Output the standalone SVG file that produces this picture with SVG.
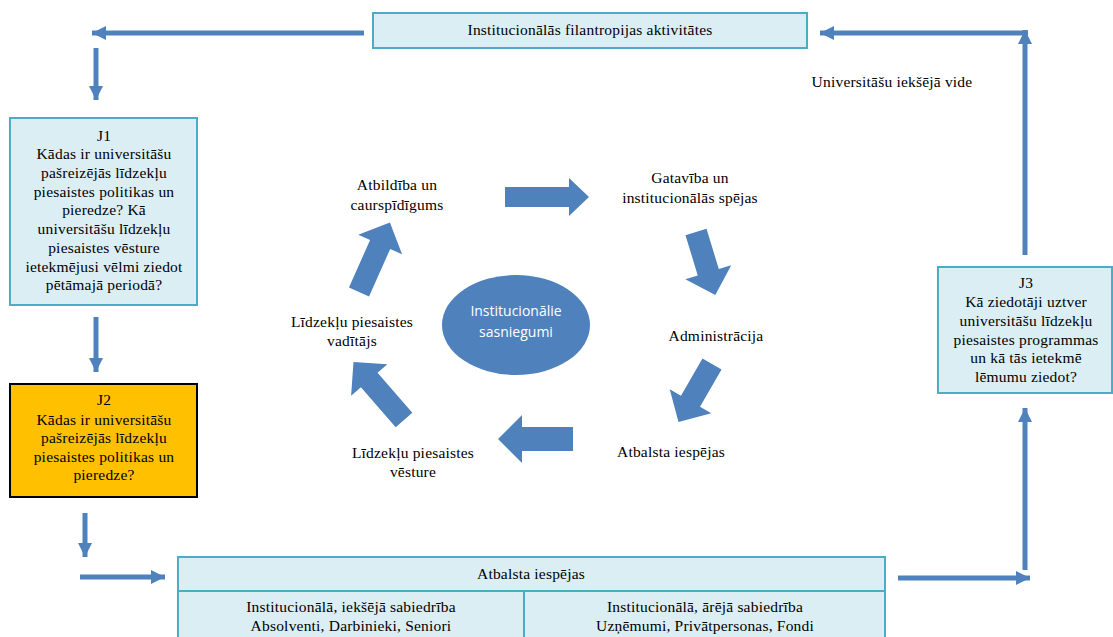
<svg xmlns="http://www.w3.org/2000/svg" width="1113" height="637" viewBox="0 0 1113 637">
<style>
.t{font-family:"Liberation Serif","Times New Roman",serif;font-size:15.5px;letter-spacing:0.2px;fill:#000;text-anchor:middle}
.w{font-family:"Open Sans","Noto Sans",sans-serif;font-size:14px;fill:#fff;text-anchor:middle}
.box{fill:#DBEEF4;stroke:#4BACC6;stroke-width:2}
.j2{fill:#FFC000;stroke:#000;stroke-width:2}
.ln{stroke:#4F81BD;stroke-width:5;fill:none;marker-end:url(#ah)}
.blk{fill:#4F81BD}
</style>
<defs>
<marker id="ah" markerUnits="userSpaceOnUse" markerWidth="16" markerHeight="16" refX="14" refY="7" orient="auto">
<polygon points="0,0 14,7 0,14" fill="#4F81BD"/>
</marker>
</defs>
<rect width="1113" height="637" fill="#fff"/>
<g id="connectors">
<line class="ln" x1="364" y1="33" x2="92" y2="33"/>
<line class="ln" x1="96" y1="48" x2="96" y2="100"/>
<line class="ln" x1="96" y1="317" x2="96" y2="372"/>
<line class="ln" x1="85" y1="513" x2="85" y2="557"/>
<line class="ln" x1="80" y1="577" x2="165" y2="577"/>
<line class="ln" x1="898" y1="578" x2="1030" y2="578"/>
<line class="ln" x1="1025" y1="570" x2="1025" y2="408"/>
<line class="ln" x1="1025" y1="255" x2="1025" y2="30"/>
<line class="ln" x1="1028" y1="33" x2="820" y2="33"/>
</g>
<g id="cycle-arrows">
<path class="blk" transform="translate(505,197)" d="M0,-10 H64 V-19 L84,0 L64,19 V10 H0 Z"/>
<path class="blk" transform="translate(696,232) rotate(73)" d="M0,-11 H42 V-24 L66,0 L42,24 V11 H0 Z"/>
<path class="blk" transform="translate(712,364) rotate(120)" d="M0,-11 H43 V-24 L67,0 L43,24 V11 H0 Z"/>
<path class="blk" transform="translate(573,439) rotate(180)" d="M0,-12 H51 V-24 L75,0 L51,24 V12 H0 Z"/>
<path class="blk" transform="translate(404,420) rotate(-131)" d="M0,-11 H53 V-24 L77,0 L53,24 V11 H0 Z"/>
<path class="blk" transform="translate(359,292) rotate(-66)" d="M0,-11 H52 V-24 L76,0 L52,24 V11 H0 Z"/>
</g>
<g id="top">
<rect class="box" x="373" y="13" width="434" height="35"/>
<text class="t" x="590" y="35">Institucionālās filantropijas aktivitātes</text>
</g>
<g id="vide">
<text class="t" x="892" y="87">Universitāšu iekšējā vide</text>
</g>
<g id="j1">
<rect class="box" x="10" y="118" width="187" height="187"/>
<text class="t" x="104" y="141">J1</text>
<text class="t" x="104" y="159">Kādas ir universitāšu</text>
<text class="t" x="104" y="178">pašreizējās līdzekļu</text>
<text class="t" x="104" y="197">piesaistes politikas un</text>
<text class="t" x="104" y="215">pieredze? Kā</text>
<text class="t" x="104" y="234">universitāšu līdzekļu</text>
<text class="t" x="104" y="253">piesaistes vēsture</text>
<text class="t" x="104" y="272">ietekmējusi vēlmi ziedot</text>
<text class="t" x="104" y="290">pētāmajā periodā?</text>
</g>
<g id="j2">
<rect class="j2" x="10" y="384" width="187" height="113"/>
<text class="t" x="104" y="405">J2</text>
<text class="t" x="104" y="425">Kādas ir universitāšu</text>
<text class="t" x="104" y="443">pašreizējās līdzekļu</text>
<text class="t" x="104" y="462">piesaistes politikas un</text>
<text class="t" x="104" y="480">pieredze?</text>
</g>
<g id="j3">
<rect class="box" x="938" y="267" width="174" height="126"/>
<text class="t" x="1026" y="288">J3</text>
<text class="t" x="1026" y="307">Kā ziedotāji uztver</text>
<text class="t" x="1026" y="326">universitāšu līdzekļu</text>
<text class="t" x="1026" y="345">piesaistes programmas</text>
<text class="t" x="1026" y="363">un kā tās ietekmē</text>
<text class="t" x="1026" y="382">lēmumu ziedot?</text>
</g>
<g id="support">
<rect class="box" x="178" y="557" width="707" height="34"/>
<text class="t" x="531" y="579">Atbalsta iespējas</text>
<rect class="box" x="178" y="591" width="346" height="52"/>
<rect class="box" x="524" y="591" width="361" height="52"/>
<text class="t" x="351" y="612">Institucionālā, iekšējā sabiedrība</text>
<text class="t" x="351" y="631">Absolventi, Darbinieki, Seniori</text>
<text class="t" x="705" y="612">Institucionālā, ārējā sabiedrība</text>
<text class="t" x="705" y="631">Uzņēmumi, Privātpersonas, Fondi</text>
</g>
<g id="center">
<ellipse cx="516" cy="325" rx="74" ry="50" fill="#4F81BD"/>
<text class="w" x="516" y="316">Institucionālie</text>
<text class="w" x="516" y="337">sasniegumi</text>
</g>
<g id="atbildiba">
<text class="t" x="397" y="190">Atbildība un</text>
<text class="t" x="397" y="210">caurspīdīgums</text>
</g>
<g id="gataviba">
<text class="t" x="690" y="183">Gatavība un</text>
<text class="t" x="690" y="203">institucionālās spējas</text>
</g>
<g id="administracija">
<text class="t" x="716" y="341">Administrācija</text>
</g>
<g id="atbalsta">
<text class="t" x="671" y="457">Atbalsta iespējas</text>
</g>
<g id="vesture">
<text class="t" x="413" y="458">Līdzekļu piesaistes</text>
<text class="t" x="413" y="477">vēsture</text>
</g>
<g id="vaditajs">
<text class="t" x="352" y="327">Līdzekļu piesaistes</text>
<text class="t" x="352" y="346">vadītājs</text>
</g>
</svg>
